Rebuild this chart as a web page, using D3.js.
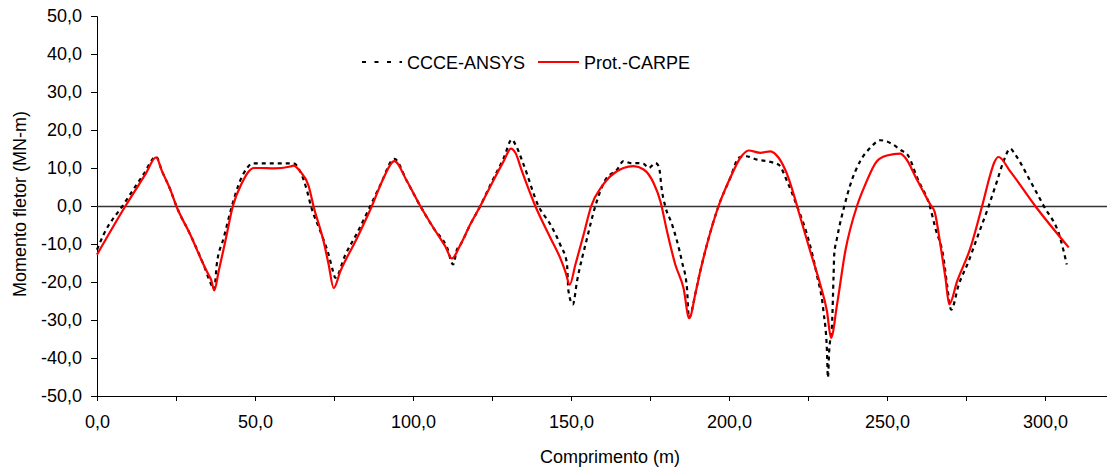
<!DOCTYPE html>
<html>
<head>
<meta charset="utf-8">
<script src="https://cdn.jsdelivr.net/npm/d3@7"></script>
<style>
  body { margin: 0; background: #fff; }
  text { font-family: "Liberation Sans", Arial, sans-serif; fill: #000; }
</style>
</head>
<body>
<div id="chart"></div>
<script>
// CCCE-ANSYS (dashed black)
const ansysX = [0, 2.1, 8.4, 14.7, 18.7, 20.6, 23.2, 25.1, 29.5, 33.7, 36.4, 37.1, 37.9, 40.1, 42.7, 44.8, 47.5, 49.1, 62.2, 64.3,
  66.5, 67.7, 70.7, 73.3, 74.7, 75.4, 78.6, 82.3, 86.5, 89.7, 94.1, 98.1, 102.3, 106.5, 110.8, 112.7, 113.9, 115.0, 118.1, 121.3,
  124.5, 128.7, 131.3, 132.4, 135.0, 139.7, 143.5, 146.6, 148.7, 149.2, 150.6, 151.9, 155.1, 157.7, 160.9, 164.6, 166.6, 168.8, 170.9, 173.0,
  174.6, 176.7, 177.8, 178.8, 179.8, 182.0, 185.1, 186.7, 187.3, 189.5, 190.9, 193.0, 196.7, 200.4, 203.1, 205.2, 208.9, 213.1, 215.7, 218.4,
  221.5, 224.7, 227.8, 229.9, 231.0, 231.3, 231.7, 232.6, 233.1, 233.3, 234.2, 236.5, 238.4, 241.5, 244.7, 247.9, 251.0, 254.2, 256.8, 259.5,
  263.7, 265.3, 267.9, 269.0, 270.3, 272.7, 275.8, 278.5, 281.6, 284.8, 286.9, 289.0, 290.6, 295.4, 299.6, 304.8, 306.9];
const ansysY = [-11.5, -7.5, 0.4, 8.3, 13.0, 9.1, 4.3, 0, -7.5, -15.4, -21.1, -22.0, -15.4, -8.4, 0, 5.6, 10.0, 11.2, 11.2, 9.1,
  3.9, 0, -6.7, -12.8, -17.2, -18.9, -12.8, -7.1, 0, 5.6, 12.4, 6.5, 0, -5.8, -11.0, -15.4, -11.5, -10.2, -4.9, 0,
  5.6, 12.6, 17.5, 16.2, 10.9, 0, -4.9, -10.2, -15.0, -22.4, -25.9, -19.8, -8.4, 0, 6.9, 9.6, 11.8, 11.3, 11.3, 11.1,
  10.0, 11.3, 10.4, 3.9, 0, -4.9, -14.6, -21.6, -29.5, -22.5, -17.2, -10.2, 0, 7.4, 12.7, 13.1, 12.2, 11.6, 10.9, 6.5,
  0, -7.5, -18.1, -27.7, -38.2, -45.2, -38.2, -31.2, -18.1, -12.8, -8.4, 0, 5.6, 11.8, 15.3, 17.3, 16.6, 14.8, 13.1, 7.5,
  -0.5, -5.8, -13.7, -20.7, -27.3, -20.7, -14.6, -8.4, -1.4, 6.5, 11.8, 15.1, 13.5, 6.5, 0, -8.4, -15.4];

// Prot.-CARPE (solid red)
const carpeX = [0, 9.0, 15.3, 18.7, 20.6, 23.2, 25.1, 29.5, 33.7, 35.3, 36.1, 37.1, 38.5, 40.6, 43.0, 45.9, 48.0, 49.6, 51.7, 56.0,
  61.2, 62.2, 64.3, 67.0, 68.5, 71.7, 73.3, 74.9, 77.0, 82.3, 87.0, 90.7, 94.1, 98.1, 102.3, 106.5, 110.2, 112.3, 115.0, 118.1,
  121.3, 124.5, 128.7, 131.0, 132.4, 134.5, 138.7, 143.5, 146.6, 148.2, 149.6, 151.4, 154.0, 156.4, 159.8, 162.4, 166.6, 169.8, 173.0, 176.1,
  178.3, 180.4, 183.0, 185.6, 187.4, 189.5, 190.9, 193.0, 196.7, 200.4, 203.6, 206.2, 209.9, 213.1, 215.7, 218.4, 220.5, 222.6, 225.7, 228.9,
  231.0, 232.3, 234.2, 236.8, 240.5, 243.1, 246.8, 250.0, 254.2, 255.8, 259.5, 263.7, 265.1, 266.9, 268.5, 269.7, 272.2, 276.4, 280.1, 282.7,
  284.0, 285.3, 289.0, 296.9, 307.5];
const carpeY = [-12.8, 0, 8.3, 12.8, 9.1, 4.3, 0, -7.5, -15.4, -18.1, -19.4, -22.2, -17.2, -9.3, 0, 6.1, 9.1, 10.0, 10.0, 9.9,
  10.4, 10.6, 9.1, 5.2, 0, -9.3, -15.4, -21.6, -17.2, -8.4, 0, 7.4, 11.8, 6.5, 0, -5.8, -10.6, -13.8, -10.2, -4.9,
  0, 5.2, 11.8, 15.1, 14.0, 9.1, 0, -8.4, -13.7, -17.2, -20.7, -15.4, -7.5, 0, 5.2, 7.8, 10.0, 10.5, 9.6, 6.1,
  1.2, -6.7, -15.4, -21.6, -29.5, -22.5, -17.2, -10.2, 0, 7.4, 12.7, 14.6, 14.0, 14.4, 12.7, 8.3, 3.0, -3.1, -11.9, -20.7,
  -27.7, -34.7, -25.9, -11.9, 0, 5.6, 11.8, 13.3, 13.8, 12.7, 6.9, 0.4, -1.6, -10.2, -18.9, -25.9, -19.8, -11.0, 0, 8.3,
  11.6, 12.9, 9.1, 0, -10.9];

const yTicks = [-50, -40, -30, -20, -10, 0, 10, 20, 30, 40, 50];
const xTicks = [0, 50, 100, 150, 200, 250, 300];
const xMinorTicks = [25, 75, 125, 175, 225, 275];

const W = 1107, H = 468;
const margin = { top: 16, right: 0, bottom: 72, left: 97 };

const svg = d3.select("#chart")
    .append("svg")
    .attr("width", W)
    .attr("height", H);

const x = d3.scaleLinear().domain([0, 320]).range([margin.left, margin.left + 320 * 3.16]);
const y = d3.scaleLinear().domain([-50, 50]).range([H - margin.bottom, margin.top]);

// "-10,0" style labels with a plain hyphen and decimal comma
const fmt = v => (v < 0 ? "-" : "") + Math.abs(v).toFixed(1).replace(".", ",");

// y axis
const yAxis = svg.append("g")
    .attr("transform", `translate(${margin.left},0)`)
    .call(d3.axisLeft(y).tickValues(yTicks).tickFormat(fmt).tickSize(6).tickPadding(9));
yAxis.selectAll("text").style("font-size", "18px");

// x axis (major + minor ticks)
const xAxis = svg.append("g")
    .attr("transform", `translate(0,${y(-50)})`)
    .call(d3.axisBottom(x).tickValues(xTicks).tickFormat(fmt).tickSize(5).tickPadding(14));
xAxis.selectAll("text").style("font-size", "18px");
xAxis.select(".domain").attr("d", `M${margin.left},0.5H${W}`);

svg.append("g")
    .selectAll("line")
    .data(xMinorTicks)
    .join("line")
    .attr("x1", d => x(d) + 0.5)
    .attr("x2", d => x(d) + 0.5)
    .attr("y1", y(-50))
    .attr("y2", y(-50) + 5)
    .attr("stroke", "#000");

svg.selectAll(".domain, .tick line").attr("stroke", "#000");

// zero line
svg.append("line")
    .attr("x1", margin.left)
    .attr("x2", W)
    .attr("y1", Math.round(y(0)) + 0.5)
    .attr("y2", Math.round(y(0)) + 0.5)
    .attr("stroke", "#333")
    .attr("stroke-width", 1.3);

const line = d3.line()
    .x(d => x(d[0]))
    .y(d => y(d[1]))
    .curve(d3.curveMonotoneX);

const ansys = ansysX.map((v, i) => [v, ansysY[i]]);
const carpe = carpeX.map((v, i) => [v, carpeY[i]]);

svg.append("path")
    .datum(ansys)
    .attr("d", line)
    .attr("fill", "none")
    .attr("stroke", "#000")
    .attr("stroke-width", 2.2)
    .attr("stroke-dasharray", "4,4");

svg.append("path")
    .datum(carpe)
    .attr("d", line)
    .attr("fill", "none")
    .attr("stroke", "#ff0000")
    .attr("stroke-width", 2.2);

// legend
const legend = svg.append("g").attr("transform", "translate(0,62)");
legend.append("line")
    .attr("x1", 362).attr("x2", 402)
    .attr("stroke", "#000").attr("stroke-width", 2.2)
    .attr("stroke-dasharray", "4,8.5");
legend.append("text")
    .attr("x", 407).attr("y", 6.5)
    .style("font-size", "18px")
    .text("CCCE-ANSYS");
legend.append("line")
    .attr("x1", 538).attr("x2", 579)
    .attr("stroke", "#ff0000").attr("stroke-width", 2.2);
legend.append("text")
    .attr("x", 584).attr("y", 6.5)
    .style("font-size", "18px")
    .text("Prot.-CARPE");

// axis titles
svg.append("text")
    .attr("x", 610)
    .attr("y", 463)
    .attr("text-anchor", "middle")
    .style("font-size", "18px")
    .text("Comprimento (m)");

svg.append("text")
    .attr("transform", "rotate(-90)")
    .attr("x", -204)
    .attr("y", 26)
    .attr("text-anchor", "middle")
    .style("font-size", "18px")
    .text("Momento fletor (MN-m)");
</script>
</body>
</html>
